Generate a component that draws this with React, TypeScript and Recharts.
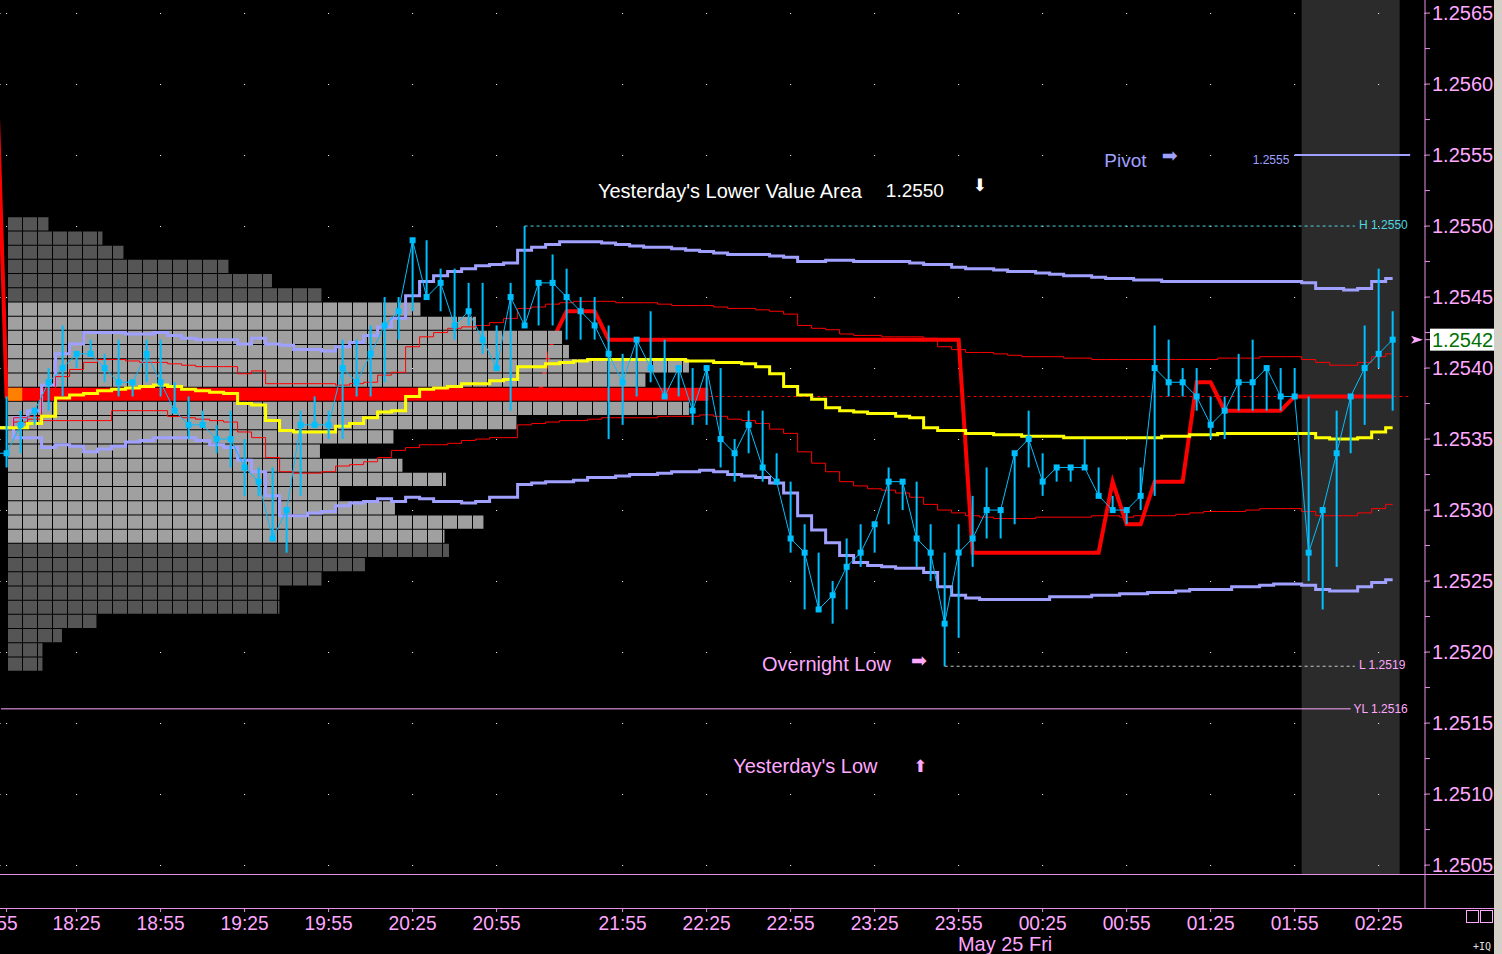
import React from 'react';
import {
  ComposedChart,
  Line,
  Bar,
  XAxis,
  YAxis,
  CartesianGrid,
  ReferenceArea,
  ReferenceLine,
  ReferenceDot,
} from 'recharts';

// 5 minute bars, index of the first value below (it sits just left of the plot)
const firstBar = -1;

const close = [
  1.2534, 1.2534, 1.2536, 1.2537, 1.2539, 1.254, 1.2541, 1.2541, 1.254, 1.2539,
  1.2539, 1.2541, 1.2539, 1.2537, 1.2536, 1.2536, 1.2535, 1.2535, 1.2533, 1.2532,
  1.2528, 1.253, 1.2536, 1.2536, 1.2536, 1.254, 1.2539, 1.2541, 1.2543, 1.2544,
  1.2549, 1.2545, 1.2546, 1.2543, 1.2544, 1.2542, 1.254, 1.2545, 1.2543, 1.2546,
  1.2546, 1.2545, 1.2544, 1.2543, 1.2541, 1.2539, 1.2542, 1.254, 1.2538, 1.254,
  1.2537, 1.254, 1.2535, 1.2534, 1.2536, 1.2533, 1.2532, 1.2528, 1.2527, 1.2523,
  1.2524, 1.2526, 1.2527, 1.2529, 1.2532, 1.2532, 1.2528, 1.2527, 1.2522, 1.2527,
  1.2528, 1.253, 1.253, 1.2534, 1.2535, 1.2532, 1.2533, 1.2533, 1.2533, 1.2531,
  1.253, 1.253, 1.2531, 1.254, 1.2539, 1.2539, 1.2538, 1.2536, 1.2537, 1.2539,
  1.2539, 1.254, 1.2538, 1.2538, 1.2527, 1.253, 1.2534, 1.2538, 1.254, 1.2541,
  1.2542,
];

const high = [
  1.2534, 1.2538, 1.2537, 1.2537, 1.254, 1.2543, 1.2541, 1.2542, 1.2541, 1.2542,
  1.2539, 1.2542, 1.2542, 1.2539, 1.2538, 1.2537, 1.2536, 1.2537, 1.2535, 1.2533,
  1.2533, 1.253, 1.2537, 1.2538, 1.2537, 1.2542, 1.2542, 1.2543, 1.2545, 1.2545,
  1.2549, 1.2549, 1.2547, 1.2547, 1.2546, 1.2546, 1.2543, 1.2546, 1.255, 1.2546,
  1.2548, 1.2547, 1.2545, 1.2545, 1.2543, 1.2541, 1.2542, 1.2544, 1.2542, 1.254,
  1.254, 1.254, 1.254, 1.2535, 1.2537, 1.2537, 1.2534, 1.2532, 1.2529, 1.2527,
  1.2525, 1.2528, 1.2529, 1.2529, 1.2533, 1.2532, 1.2532, 1.2529, 1.2527, 1.2529,
  1.2531, 1.2533, 1.253, 1.2534, 1.2537, 1.2534, 1.2533, 1.2533, 1.2535, 1.2533,
  1.2531, 1.253, 1.2533, 1.2543, 1.2542, 1.254, 1.254, 1.2538, 1.2538, 1.2541,
  1.2542, 1.254, 1.254, 1.254, 1.2538, 1.253, 1.2537, 1.2538, 1.2543, 1.2547,
  1.2544,
];

const low = [
  1.2534, 1.2533, 1.2534, 1.2536, 1.2537, 1.2538, 1.254, 1.2541, 1.2539, 1.2538,
  1.2538, 1.2539, 1.2538, 1.2537, 1.2535, 1.2536, 1.2534, 1.2533, 1.2531, 1.2531,
  1.2528, 1.2527, 1.2531, 1.2536, 1.2535, 1.2535, 1.2538, 1.2538, 1.2539, 1.2542,
  1.2544, 1.2545, 1.2544, 1.2542, 1.2543, 1.2541, 1.254, 1.2537, 1.2543, 1.2543,
  1.2543, 1.2542, 1.2542, 1.2542, 1.2535, 1.2536, 1.2538, 1.2539, 1.2538, 1.2538,
  1.2536, 1.2536, 1.2533, 1.2532, 1.2534, 1.2532, 1.2532, 1.2527, 1.2523, 1.2523,
  1.2522, 1.2523, 1.2526, 1.2527, 1.2529, 1.253, 1.2526, 1.2525, 1.2519, 1.2521,
  1.2526, 1.2528, 1.2528, 1.2529, 1.2533, 1.2531, 1.2532, 1.2532, 1.2533, 1.2531,
  1.253, 1.2529, 1.253, 1.2531, 1.2538, 1.2538, 1.2537, 1.2535, 1.2535, 1.2537,
  1.2537, 1.2537, 1.2537, 1.2538, 1.2525, 1.2523, 1.2526, 1.2534, 1.2536, 1.254,
  1.2537,
];

const vwap = [
  1.25358, 1.25358, 1.25358, 1.25361, 1.25366, 1.25379, 1.25381, 1.25382, 1.25384, 1.25385,
  1.25386, 1.25387, 1.25388, 1.25387, 1.25385, 1.25384, 1.25383, 1.25382, 1.25375, 1.25374,
  1.25363, 1.25356, 1.25355, 1.25355, 1.25355, 1.25359, 1.25361, 1.25365, 1.25369, 1.2537,
  1.2538, 1.25385, 1.25386, 1.25387, 1.25389, 1.25389, 1.25391, 1.25392, 1.25401, 1.25401,
  1.25403, 1.25404, 1.25405, 1.25406, 1.25406, 1.25406, 1.25406, 1.25406, 1.25406, 1.25406,
  1.25405, 1.25405, 1.25404, 1.25404, 1.25403, 1.25401, 1.25396, 1.25387, 1.25381, 1.25378,
  1.25372, 1.2537, 1.25369, 1.25368, 1.25368, 1.25366, 1.25365, 1.25358, 1.25356, 1.25356,
  1.25354, 1.25354, 1.25353, 1.25353, 1.25352, 1.25352, 1.25352, 1.25351, 1.25351, 1.25351,
  1.25351, 1.25351, 1.25351, 1.25351, 1.25352, 1.25352, 1.25353, 1.25353, 1.25354, 1.25354,
  1.25354, 1.25354, 1.25354, 1.25354, 1.25354, 1.25351, 1.2535, 1.2535, 1.25351, 1.25355,
  1.25358,
];

// outer bands (lavender)
const upperBand2 = [
  1.25358, 1.25358, 1.25365, 1.2537, 1.25388, 1.2541, 1.25417, 1.25425, 1.25425, 1.25425,
  1.25424, 1.25424, 1.25425, 1.25423, 1.25421, 1.2542, 1.2542, 1.2542, 1.25417, 1.25421,
  1.25417, 1.25416, 1.25413, 1.25413, 1.25412, 1.25415, 1.25418, 1.25423, 1.25429, 1.25435,
  1.25451, 1.25461, 1.25465, 1.25468, 1.2547, 1.25472, 1.25473, 1.25474, 1.25483, 1.25485,
  1.25487, 1.25489, 1.25489, 1.25489, 1.25488, 1.25487, 1.25486, 1.25485, 1.25485, 1.25484,
  1.25483, 1.25482, 1.25481, 1.2548, 1.2548, 1.2548, 1.25479, 1.25478, 1.25475, 1.25475,
  1.25476, 1.25476, 1.25475, 1.25475, 1.25475, 1.25475, 1.25474, 1.25473, 1.25473, 1.25471,
  1.2547, 1.2547, 1.25469, 1.25468, 1.25468, 1.25467, 1.25466, 1.25465, 1.25465, 1.25464,
  1.25463, 1.25463, 1.25462, 1.25462, 1.25461, 1.25461, 1.25461, 1.25461, 1.25461, 1.25461,
  1.25461, 1.25461, 1.25461, 1.25461, 1.2546, 1.25456, 1.25456, 1.25455, 1.25456, 1.25461,
  1.25463,
];

const lowerBand2 = [
  1.25358, 1.25358, 1.25351, 1.25351, 1.25344, 1.25346, 1.25345, 1.25341, 1.25343, 1.25345,
  1.25348, 1.25349, 1.25351, 1.25351, 1.25351, 1.25349, 1.25346, 1.25344, 1.25335, 1.25327,
  1.2531, 1.25296, 1.25296, 1.25298, 1.25299, 1.25303, 1.25305, 1.25306, 1.25308, 1.25306,
  1.25309, 1.25308, 1.25306, 1.25306, 1.25305, 1.25306, 1.25309, 1.25309, 1.25318, 1.25319,
  1.2532, 1.2532, 1.25321, 1.25323, 1.25323, 1.25324, 1.25325, 1.25325, 1.25326, 1.25327,
  1.25327, 1.25328, 1.25327, 1.25325, 1.25324, 1.25323, 1.25319, 1.25312, 1.25296, 1.25286,
  1.25277, 1.25268, 1.25263, 1.25261, 1.2526, 1.25259, 1.25259, 1.25256, 1.25246, 1.2524,
  1.25238, 1.25237, 1.25237, 1.25237, 1.25237, 1.25237, 1.25239, 1.25239, 1.25239, 1.2524,
  1.2524, 1.25241, 1.25241, 1.25242, 1.25242, 1.25243, 1.25244, 1.25244, 1.25244, 1.25246,
  1.25246, 1.25247, 1.25248, 1.25248, 1.25247, 1.25244, 1.25243, 1.25243, 1.25246, 1.25249,
  1.25251,
];

// inner bands (thin red)
const upperBand1 = [
  1.25358, 1.25358, 1.25362, 1.25366, 1.25381, 1.25394, 1.25399, 1.25404, 1.25406, 1.25406,
  1.25405, 1.25404, 1.25404, 1.25403, 1.25402, 1.25401, 1.25401, 1.25401, 1.25396, 1.25398,
  1.25389, 1.25389, 1.25389, 1.25389, 1.25389, 1.25388, 1.25389, 1.2539, 1.25395, 1.25397,
  1.25415, 1.25422, 1.25425, 1.25428, 1.25429, 1.2543, 1.25432, 1.25435, 1.25442, 1.25443,
  1.25445, 1.25446, 1.25447, 1.25447, 1.25447, 1.25446, 1.25446, 1.25446, 1.25445, 1.25444,
  1.25444, 1.25444, 1.25443, 1.25442, 1.25442, 1.25441, 1.2544, 1.25438, 1.2543, 1.25428,
  1.25427, 1.25424, 1.25423, 1.25423, 1.25422, 1.25422, 1.25422, 1.25421, 1.25415, 1.25413,
  1.25411, 1.25411, 1.2541, 1.25409, 1.25408, 1.25408, 1.25408, 1.25407, 1.25407, 1.25406,
  1.25406, 1.25406, 1.25406, 1.25406, 1.25406, 1.25406, 1.25406, 1.25406, 1.25407, 1.25407,
  1.25407, 1.25408, 1.25408, 1.25408, 1.25406, 1.25404, 1.25402, 1.25402, 1.25404, 1.25408,
  1.2541,
];

const lowerBand1 = [
  1.25358, 1.25358, 1.25365, 1.25364, 1.25363, 1.25363, 1.25363, 1.25363, 1.25363, 1.2537,
  1.2537, 1.2537, 1.2537, 1.25366, 1.25365, 1.25364, 1.25363, 1.25362, 1.25355, 1.25351,
  1.25337, 1.25327, 1.25326, 1.25326, 1.25327, 1.25331, 1.25332, 1.25334, 1.25337, 1.25342,
  1.25344, 1.25346, 1.25346, 1.25347, 1.25349, 1.2535, 1.25351, 1.25351, 1.2536, 1.25361,
  1.25362, 1.25363, 1.25363, 1.25364, 1.25365, 1.25365, 1.25365, 1.25365, 1.25366, 1.25366,
  1.25366, 1.25367, 1.25366, 1.25364, 1.25363, 1.25361, 1.25357, 1.25354, 1.25341, 1.25333,
  1.25327, 1.2532, 1.25317, 1.25315, 1.25314, 1.25312, 1.25309, 1.25304, 1.253, 1.25298,
  1.25296, 1.25295, 1.25294, 1.25294, 1.25294, 1.25295, 1.25295, 1.25295, 1.25295, 1.25296,
  1.25296, 1.25295, 1.25296, 1.25296, 1.25296, 1.25297, 1.25298, 1.25299, 1.25299, 1.25299,
  1.253, 1.25301, 1.25301, 1.25301, 1.25299, 1.25296, 1.25296, 1.25296, 1.25298, 1.25301,
  1.25304,
];

// thick red line
const trend = [
  1.257, 1.2538, 1.2538, 1.2538, 1.2538, 1.2538, 1.2538, 1.2538, 1.2538, 1.2538,
  1.2538, 1.2538, 1.2538, 1.2538, 1.2538, 1.2538, 1.2538, 1.2538, 1.2538, 1.2538,
  1.2538, 1.2538, 1.2538, 1.2538, 1.2538, 1.2538, 1.2538, 1.2538, 1.2538, 1.2538,
  1.2538, 1.2538, 1.2538, 1.2538, 1.2538, 1.2538, 1.2538, 1.2538, 1.2538, 1.2538,
  1.2542, 1.2544, 1.2544, 1.2544, 1.2542, 1.2542, 1.2542, 1.2542, 1.2542, 1.2542,
  1.2542, 1.2542, 1.2542, 1.2542, 1.2542, 1.2542, 1.2542, 1.2542, 1.2542, 1.2542,
  1.2542, 1.2542, 1.2542, 1.2542, 1.2542, 1.2542, 1.2542, 1.2542, 1.2542, 1.2542,
  1.2527, 1.2527, 1.2527, 1.2527, 1.2527, 1.2527, 1.2527, 1.2527, 1.2527, 1.2527,
  1.2532, 1.2529, 1.2529, 1.2532, 1.2532, 1.2532, 1.2539, 1.2539, 1.2537, 1.2537,
  1.2537, 1.2537, 1.2537, 1.2538, 1.2538, 1.2538, 1.2538, 1.2538, 1.2538, 1.2538,
  1.2538,
];

// volume profile of the prior session, one row per pip
const profilePrices = [
  1.255, 1.2549, 1.2548, 1.2547, 1.2546, 1.2545, 1.2544, 1.2543, 1.2542, 1.2541,
  1.254, 1.2539, 1.2538, 1.2537, 1.2536, 1.2535, 1.2534, 1.2533, 1.2532, 1.2531,
  1.253, 1.2529, 1.2528, 1.2527, 1.2526, 1.2525, 1.2524, 1.2523, 1.2522, 1.2521,
  1.252, 1.2519,
];
const profileVolume = [
  2.7, 6.3, 7.7, 14.7, 17.6, 20.9, 27.5, 31.2, 37.0, 37.4,
  45.4, 42.5, 46.7, 45.4, 33.9, 25.7, 20.8, 26.3, 29.2, 22.1,
  25.8, 31.7, 29.1, 29.4, 23.8, 20.9, 18.1, 18.1, 5.9, 3.6,
  2.3, 2.3,
];
const poc = 1.2538;
const valueAreaHigh = 1.2544;
const valueAreaLow = 1.2528;

const pivot = 1.2555;
const overnightHigh = 1.255;
const overnightLow = 1.2519;
const yesterdayLow = 1.2516;

const tickBars = [0, 5, 11, 17, 23, 29, 35, 44, 50, 56, 62, 68, 74, 80, 86, 92, 98];
const tickLabels = [
  '17:55', '18:25', '18:55', '19:25', '19:55', '20:25', '20:55', '21:55', '22:25',
  '22:55', '23:25', '23:55', '00:25', '00:55', '01:25', '01:55', '02:25',
];

const priceTicks = [
  1.2505, 1.25075, 1.251, 1.25125, 1.2515, 1.25175, 1.252, 1.25225, 1.2525, 1.25275,
  1.253, 1.25325, 1.2535, 1.25375, 1.254, 1.25425, 1.2545, 1.25475, 1.255, 1.25525,
  1.2555, 1.25575, 1.256, 1.25625, 1.2565,
];

const BLUE = '#00BFFF';
const LAVENDER = '#A0A0FF';
const PINK = '#FFA8FF';
const AXIS = '#E690E6';
const FONT = '"Liberation Sans", Arial, sans-serif';
const ARROW_FONT = '"DejaVu Sans", sans-serif';

const lastPrice = close[close.length - 1];

const bars = close.map((c, k) => ({
  bar: k + firstBar,
  close: c,
  range: [low[k], high[k]],
  vwap: vwap[k],
  upperBand2: upperBand2[k],
  lowerBand2: lowerBand2[k],
  upperBand1: upperBand1[k],
  lowerBand1: lowerBand1[k],
  trend: trend[k],
}));

const notes = [
  { bar: 78.4, price: 1.25546, text: 'Pivot', color: LAVENDER, size: 19 },
  { bar: 82.5, price: 1.2555, text: '\u27A1', color: LAVENDER, size: 19, arrow: true },
  { bar: 89.0, price: 1.25547, text: '1.2555', color: LAVENDER, size: 12 },
  { bar: 42.24, price: 1.25525, text: "Yesterday's Lower Value Area", color: '#FFFFFF', size: 20 },
  { bar: 62.8, price: 1.25525, text: '1.2550', color: '#FFFFFF', size: 19 },
  { bar: 69.0, price: 1.25529, text: '\u2B07', color: '#FFFFFF', size: 17, arrow: true },
  { bar: 96.6, price: 1.25501, text: 'H 1.2550', color: '#50D8E0', size: 12 },
  { bar: 53.96, price: 1.25192, text: 'Overnight Low', color: PINK, size: 20 },
  { bar: 64.6, price: 1.25194, text: '\u27A1', color: PINK, size: 19, arrow: true },
  { bar: 96.6, price: 1.25191, text: 'L 1.2519', color: PINK, size: 12 },
  { bar: 96.2, price: 1.2516, text: 'YL 1.2516', color: PINK, size: 12 },
  { bar: 51.9, price: 1.2512, text: "Yesterday's Low", color: PINK, size: 20 },
  { bar: 64.75, price: 1.2512, text: '\u2B06', color: PINK, size: 17, arrow: true },
];

const squareDot = (p: any) => (
  <rect key={`sq-${p.index}`} x={p.cx - 3} y={p.cy - 3} width={6} height={6} fill={BLUE} />
);

function PriceTick(props: any) {
  const { x, y, payload } = props;
  const v = payload.value;
  if (v === lastPrice) {
    return (
      <g>
        <polygon
          points={`${x - 21},${y - 4} ${x - 9},${y} ${x - 21},${y + 4} ${x - 18},${y}`}
          fill={PINK}
        />
        <rect x={x - 2} y={y - 11} width={65} height={22} fill="#FFFFFF" />
        <text x={x} y={y + 7} fill="#007000" fontSize={20}>
          {v.toFixed(4)}
        </text>
      </g>
    );
  }
  if (Math.round(v * 20000) % 10 !== 0) return <g />;
  return (
    <text x={x} y={y + 7} fill={PINK} fontSize={20}>
      {v.toFixed(4)}
    </text>
  );
}

function TimeTick(props: any) {
  const { x, y, payload } = props;
  const k = tickBars.indexOf(payload.value);
  if (k < 0) return <g />;
  const first = k === 0;
  return (
    <text
      x={first ? x + 11 : x}
      y={y + 16}
      textAnchor={first ? 'end' : 'middle'}
      fill={PINK}
      fontSize={21}
      textLength={48}
      lengthAdjust="spacingAndGlyphs"
    >
      {tickLabels[k]}
    </text>
  );
}

function VolumeTick(props: any) {
  const { x, y, payload } = props;
  return (
    <text x={x} y={y + 7} fill={PINK} fontSize={20}>
      {payload.value}
    </text>
  );
}

function PriceChart() {
  return (
    <ComposedChart width={1502} height={874} data={bars} margin={{ top: 0, right: 0, bottom: 0, left: 0 }}>
      <defs>
        <pattern id="cellDark" patternUnits="userSpaceOnUse" x={8} y={0} width={15} height={20}>
          <rect x={0} y={0} width={14} height={20} fill="#555555" />
        </pattern>
        <pattern id="cellLight" patternUnits="userSpaceOnUse" x={8} y={0} width={15} height={20}>
          <rect x={0} y={0} width={14} height={20} fill="#A0A0A0" />
        </pattern>
      </defs>
      <XAxis dataKey="bar" type="number" domain={[-0.47, 101.31]} allowDataOverflow ticks={tickBars} hide />
      {/* volume scale for the profile rows, one unit per cell */}
      <XAxis xAxisId="vol" dataKey="bar" type="number" domain={[-0.53, 94.47]} allowDataOverflow hide />
      <YAxis
        orientation="right"
        width={77}
        type="number"
        domain={[1.250437, 1.256592]}
        allowDataOverflow
        ticks={[...priceTicks, lastPrice]}
        interval={0}
        tick={<PriceTick />}
        tickSize={5}
        tickLine={{ stroke: AXIS }}
        axisLine={{ stroke: AXIS }}
      />

      <ReferenceArea x1={92.5} x2={99.5} fill="#2B2B2B" fillOpacity={1} stroke="none" zIndex={-90} />
      <CartesianGrid
        horizontal={false}
        stroke="#FFFFFF"
        strokeDasharray="1 70"
        strokeDashoffset={58}
        zIndex={-80}
      />

      <Line
        dataKey="trend"
        type="linear"
        stroke="#FF0000"
        strokeWidth={4}
        dot={false}
        activeDot={false}
        isAnimationActive={false}
        zIndex={10}
      />

      {profilePrices.map((p, k) => (
        <ReferenceArea
          key={`row-${k}`}
          xAxisId="vol"
          x1={0}
          x2={profileVolume[k]}
          y1={p - 0.000031}
          y2={p + 0.000062}
          fill={
            p === poc
              ? '#FF0000'
              : p <= valueAreaHigh && p >= valueAreaLow
                ? 'url(#cellLight)'
                : 'url(#cellDark)'
          }
          fillOpacity={1}
          stroke="none"
          zIndex={20}
        />
      ))}
      <ReferenceArea
        xAxisId="vol"
        x1={0}
        x2={0.95}
        y1={poc - 0.000031}
        y2={poc + 0.000062}
        fill="#FF8000"
        fillOpacity={1}
        stroke="none"
        zIndex={21}
      />

      <ReferenceLine segment={[{ x: 50.2, y: poc }, { x: 100.25, y: poc }]} stroke="#FF0000" strokeDasharray="3 3" zIndex={30} />
      <ReferenceLine segment={[{ x: 92.0, y: pivot }, { x: 100.25, y: pivot }]} stroke={LAVENDER} strokeWidth={2} zIndex={30} />
      <ReferenceLine segment={[{ x: 37, y: overnightHigh }, { x: 96.3, y: overnightHigh }]} stroke="#50D8E0" strokeDasharray="3 3" zIndex={30} />
      <ReferenceLine segment={[{ x: 67, y: overnightLow }, { x: 96.3, y: overnightLow }]} stroke="#C8C8C8" strokeDasharray="3 3" zIndex={30} />
      <ReferenceLine segment={[{ x: -0.4, y: yesterdayLow }, { x: 96.0, y: yesterdayLow }]} stroke={PINK} zIndex={30} />

      <Line dataKey="upperBand2" type="step" stroke={LAVENDER} strokeWidth={3} dot={false} activeDot={false} isAnimationActive={false} zIndex={401} />
      <Line dataKey="lowerBand2" type="step" stroke={LAVENDER} strokeWidth={3} dot={false} activeDot={false} isAnimationActive={false} zIndex={402} />
      <Line dataKey="upperBand1" type="step" stroke="#FF0000" strokeWidth={1} dot={false} activeDot={false} isAnimationActive={false} zIndex={403} />
      <Line dataKey="lowerBand1" type="step" stroke="#FF0000" strokeWidth={1} dot={false} activeDot={false} isAnimationActive={false} zIndex={404} />
      <Line dataKey="vwap" type="step" stroke="#FFFF00" strokeWidth={3} dot={false} activeDot={false} isAnimationActive={false} zIndex={405} />

      <Bar dataKey="range" barSize={2} fill={BLUE} isAnimationActive={false} zIndex={410} />
      <Line
        dataKey="close"
        type="linear"
        stroke={BLUE}
        strokeWidth={1}
        dot={squareDot}
        activeDot={false}
        isAnimationActive={false}
        zIndex={420}
      />

      {notes.map((n, k) => (
        <ReferenceDot
          key={`note-${k}`}
          x={n.bar}
          y={n.price}
          r={0}
          fill="none"
          stroke="none"
          zIndex={2000}
          label={{
            value: n.text,
            position: 'right',
            offset: 0,
            fill: n.color,
            fontSize: n.size,
            fontFamily: n.arrow ? ARROW_FONT : FONT,
          }}
        />
      ))}
    </ComposedChart>
  );
}

function TimeAxisChart() {
  return (
    <ComposedChart width={1502} height={79} data={bars} margin={{ top: 0, right: 0, bottom: 0, left: 0 }}>
      <XAxis
        dataKey="bar"
        type="number"
        domain={[-0.47, 101.31]}
        allowDataOverflow
        ticks={tickBars}
        interval={0}
        height={46}
        axisLine={false}
        tickSize={4}
        tickLine={{ stroke: AXIS }}
        tick={<TimeTick />}
      />
      <YAxis
        orientation="right"
        width={77}
        type="number"
        domain={[0, 4250]}
        ticks={[1700]}
        tickSize={5}
        tickLine={{ stroke: AXIS }}
        axisLine={{ stroke: AXIS }}
        tick={<VolumeTick />}
      />
    </ComposedChart>
  );
}

export default function App() {
  return (
    <div
      style={{
        position: 'absolute',
        left: 0,
        top: 0,
        width: 1502,
        height: 954,
        background: '#000000',
        overflow: 'hidden',
        fontFamily: FONT,
      }}
    >
      <div style={{ position: 'absolute', left: 0, top: 0 }}>
        <PriceChart />
      </div>
      <div style={{ position: 'absolute', left: 0, top: 874, width: 1494, height: 1, background: AXIS }} />
      <div style={{ position: 'absolute', left: 0, top: 875 }}>
        <TimeAxisChart />
      </div>
      <div style={{ position: 'absolute', left: 0, top: 908, width: 1494, height: 1, background: AXIS }} />
      <div
        style={{
          position: 'absolute',
          left: 958,
          top: 935,
          fontSize: 21,
          lineHeight: '17px',
          color: PINK,
          whiteSpace: 'nowrap',
          transform: 'scaleX(0.95)',
          transformOrigin: 'left',
        }}
      >
        May 25 Fri
      </div>
      <div style={{ position: 'absolute', left: 1466, top: 910, width: 11, height: 11, border: `1px solid ${PINK}` }} />
      <div style={{ position: 'absolute', left: 1480, top: 910, width: 11, height: 11, border: `1px solid ${PINK}` }} />
      <div
        style={{
          position: 'absolute',
          left: 1473,
          top: 941,
          fontSize: 10,
          lineHeight: '12px',
          color: '#E0E0E0',
          fontFamily: '"DejaVu Sans Mono", monospace',
        }}
      >
        +IQ
      </div>
      <div style={{ position: 'absolute', left: 1494, top: 0, width: 8, height: 954, background: '#D4D0C8' }} />
    </div>
  );
}
